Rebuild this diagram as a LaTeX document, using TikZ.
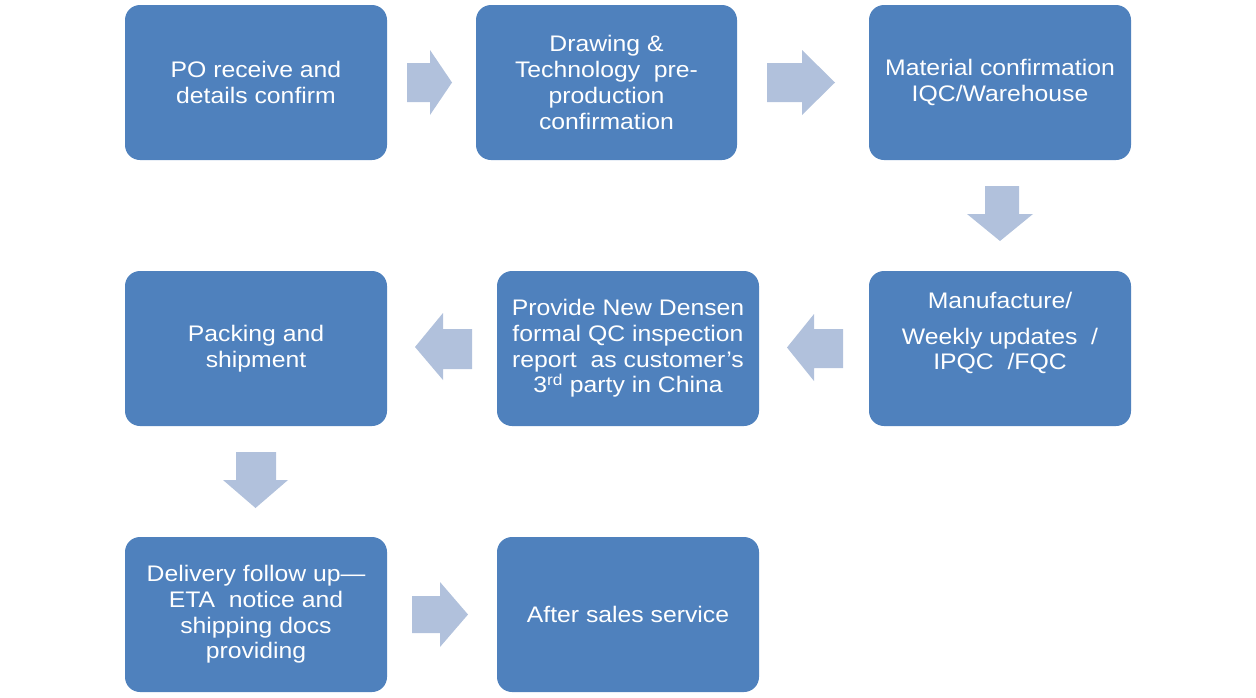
\documentclass[tikz,border=0pt]{standalone}
\usepackage{fontspec}
\setmainfont{Liberation Sans}[FakeStretch=1.1]
\definecolor{boxblue}{HTML}{4F81BD}
\definecolor{arrowblue}{HTML}{B1C1DC}
\begin{document}
\begin{tikzpicture}[x=1pt,y=-1pt,
  stepbox/.style={fill=boxblue, rounded corners=15pt, text=white, align=center,
    font=\fontsize{22.5}{25.7}\selectfont, minimum width=262pt, minimum height=155pt, inner sep=0pt},
  blockarrow/.style={fill=arrowblue, draw=none}]
\useasboundingbox (0,0) rectangle (1256,697);
% boxes
\node[stepbox] (b1) at (256,82.5) {PO receive and\\details confirm};
\node[stepbox, minimum width=261pt] (b2) at (606.5,82.5) {Drawing \&\\Technology\ \ pre-\\production\\confirmation};
\node[stepbox] (b3) at (1000,82.5) {Material confirmation\\IQC/Warehouse};
\node[stepbox] (b4) at (1000,348.5) {};
\node[text=white, align=center, font=\fontsize{22.5}{25.7}\selectfont, inner sep=0pt] (b4t) at (1000,333)
  {Manufacture/\\[10pt]Weekly updates\ \ /\\IPQC\ \ /FQC};
\node[stepbox] (b5) at (628,348.5) {Provide New Densen\\formal QC inspection\\report\ \ as customer’s\\3\textsuperscript{rd} party in China};
\node[stepbox] (b6) at (256,348.5) {Packing and\\shipment};
\node[stepbox] (b7) at (256,614.5) {Delivery follow up—\\ETA\ \ notice and\\shipping docs\\providing};
\node[stepbox] (b8) at (628,614.5) {After sales service};
% block arrows
\fill[blockarrow] (407,63) -- (430,63) -- (430,50) -- (452,82.5) -- (430,115) -- (430,102) -- (407,102) -- cycle;
\fill[blockarrow] (767,63) -- (802,63) -- (802,50) -- (835,82.5) -- (802,115) -- (802,102) -- (767,102) -- cycle;
\fill[blockarrow] (985,186) -- (1019,186) -- (1019,214) -- (1033,214) -- (1000,241) -- (967,214) -- (985,214) -- cycle;
\fill[blockarrow] (843,329) -- (814,329) -- (814,314) -- (787,347.5) -- (814,381) -- (814,368) -- (843,368) -- cycle;
\fill[blockarrow] (472,329) -- (443,329) -- (443,313) -- (415,347) -- (443,380) -- (443,369) -- (472,369) -- cycle;
\fill[blockarrow] (236,452) -- (276,452) -- (276,480) -- (288,480) -- (255.5,508) -- (223,480) -- (236,480) -- cycle;
\fill[blockarrow] (412,596) -- (440,596) -- (440,582) -- (468,614.5) -- (440,647) -- (440,633) -- (412,633) -- cycle;
\end{tikzpicture}
\end{document}
